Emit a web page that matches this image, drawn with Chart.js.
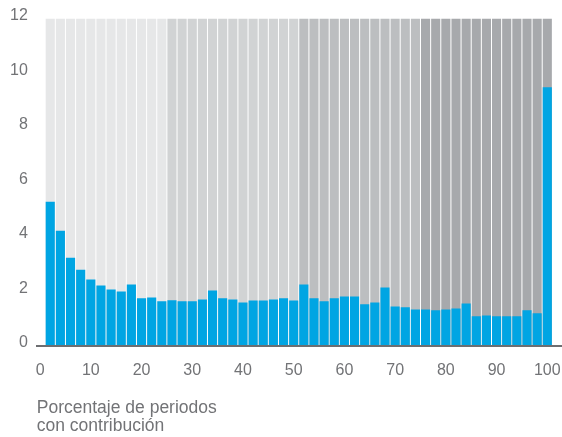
<!DOCTYPE html>
<html lang="es">
<head>
<meta charset="utf-8">
<title>Porcentaje de periodos con contribución</title>
<script src="https://cdn.jsdelivr.net/npm/chart.js@4.4.0/dist/chart.umd.min.js"></script>
<style>
  html, body { margin: 0; padding: 0; background: #fff; }
  #contenedor { width: 562px; height: 437px; }
</style>
</head>
<body>
<div id="contenedor"><canvas id="grafica" width="562" height="437"></canvas></div>
<script>
// Porcentaje de periodos con contribución (centro de cada barra)
const porcentajes = [
    2, 4, 6, 8, 10, 12, 14, 16, 18, 20,
    22, 24, 26, 28, 30, 32, 34, 36, 38, 40,
    42, 44, 46, 48, 50, 52, 54, 56, 58, 60,
    62, 64, 66, 68, 70, 72, 74, 76, 78, 80,
    82, 84, 86, 88, 90, 92, 94, 96, 98, 100
];

// Valores
const valores = [
    5.28, 4.22, 3.23, 2.79, 2.43, 2.21, 2.06, 1.99, 2.25, 1.74,
    1.77, 1.63, 1.67, 1.63, 1.63, 1.70, 2.03, 1.74, 1.70, 1.59,
    1.66, 1.66, 1.70, 1.74, 1.66, 2.25, 1.74, 1.63, 1.74, 1.81,
    1.81, 1.52, 1.59, 2.14, 1.44, 1.41, 1.33, 1.33, 1.30, 1.33,
    1.37, 1.55, 1.08, 1.11, 1.08, 1.08, 1.08, 1.30, 1.19, 9.48
];

// Etiquetas de los ejes
const ticksX = [0, 10, 20, 30, 40, 50, 60, 70, 80, 90, 100];
const ticksY = [0, 2, 4, 6, 8, 10, 12];

// Fondo gris por cuartiles
const limitesGrupo = [25, 50, 75, 100];
const coloresGrupo = ["#e6e7e8", "#d1d3d4", "#bcbec0", "#a7a9ac"];
const alturaFondo = 12;

const colorTexto = "#727376";
const fuente = "'Liberation Sans', Arial, Helvetica, sans-serif";

// Color de fondo según el grupo al que pertenece la barra
function colorFondo(x) {
    const i = limitesGrupo.findIndex(lim => x <= lim);
    return coloresGrupo[i];
}

const ctx = document.getElementById("grafica").getContext("2d");
new Chart(ctx, {
    type: "bar",
    data: {
        datasets: [
            {
                label: "Contribución",
                data: porcentajes.map((x, i) => ({ x: x, y: valores[i] })),
                backgroundColor: "#00a5e3",
                order: 0,
                grouped: false,
                barPercentage: 0.9,
                categoryPercentage: 1
            },
            {
                label: "Fondo",
                data: porcentajes.map(x => ({ x: x, y: alturaFondo })),
                backgroundColor: porcentajes.map(colorFondo),
                order: 1,
                grouped: false,
                barPercentage: 0.9,
                categoryPercentage: 1
            }
        ]
    },
    options: {
        responsive: false,
        animation: false,
        layout: { padding: { top: 12, left: 1, right: 0, bottom: 2 } },
        plugins: {
            legend: { display: false },
            tooltip: { enabled: false }
        },
        scales: {
            x: {
                type: "linear",
                min: -0.65,
                max: 102.9,
                offset: false,
                grid: { display: false, drawTicks: false },
                border: { display: true, color: "#6d6e71", width: 2, z: 1 },
                afterBuildTicks: scale => {
                    scale.ticks = ticksX.map(v => ({ value: v }));
                },
                // sin relleno extra por las etiquetas de los extremos
                afterFit: scale => {
                    scale.paddingLeft = 0;
                    scale.paddingRight = 0;
                },
                ticks: {
                    padding: 15,
                    color: colorTexto,
                    font: { family: fuente, size: 16 },
                    maxRotation: 0
                },
                title: {
                    display: true,
                    text: ["Porcentaje de periodos", "con contribución"],
                    align: "start",
                    color: colorTexto,
                    font: { family: fuente, size: 17.5, lineHeight: 1.03 },
                    padding: { top: 4, bottom: 0 }
                }
            },
            y: {
                min: 0,
                max: 12,
                grid: { display: false, drawTicks: false },
                border: { display: false },
                afterBuildTicks: scale => {
                    scale.ticks = ticksY.map(v => ({ value: v }));
                },
                ticks: {
                    padding: 9,
                    labelOffset: -3,
                    color: colorTexto,
                    font: { family: fuente, size: 16 }
                }
            }
        }
    }
});
</script>
</body>
</html>
